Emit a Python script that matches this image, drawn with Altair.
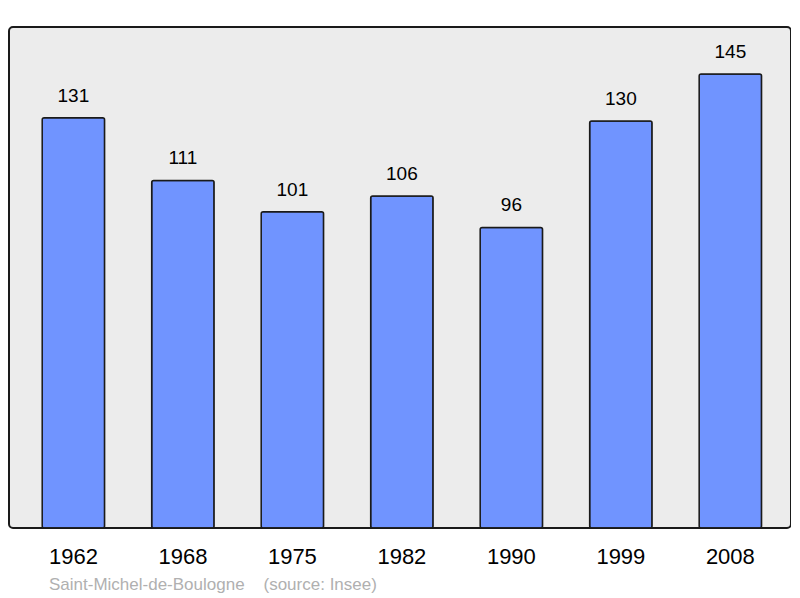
import altair as alt
import pandas as pd

years = ["1962", "1968", "1975", "1982", "1990", "1999", "2008"]
population = [131, 111, 101, 106, 96, 130, 145]

df = pd.DataFrame({"year": years, "pop": population})

x = alt.X("year:N", sort=years,
          scale=alt.Scale(paddingInner=0.43, paddingOuter=0.286, align=0.53),
          axis=alt.Axis(title=None, labelAngle=0, labelFontSize=22, labelColor="#000000",
                        labelFont="Liberation Sans", ticks=False, domain=False, labelPadding=18))
y = alt.Y("pop:Q", scale=alt.Scale(domain=[0, 160], nice=False), axis=None)

bars = alt.Chart(df).mark_bar(color="#7094ff", stroke="#1a1a1a", strokeWidth=1.5,
                              cornerRadius=2).encode(x=x, y=y)
labels = alt.Chart(df).mark_text(baseline="alphabetic", dy=-16, fontSize=19,
                                 font="Liberation Sans", color="#000000").encode(
    x=x, y=y, text="pop:Q")

footer = "Saint-Michel-de-Boulogne" + "\u00a0" * 4 + "(source: Insee)"

chart = (bars + labels).properties(
    width=782, height=501,
    autosize=alt.AutoSizeParams(type="none"),
    padding={"left": 1, "top": 19, "right": 0, "bottom": 70},
    title=alt.TitleParams(footer, orient="bottom",
                          anchor="start", dx=40, offset=10, fontSize=17, fontWeight="normal",
                          color="#b0b0b0", font="Liberation Sans"),
).configure_view(fill="#ececec", stroke="#1a1a1a", strokeWidth=2, cornerRadius=4)

chart.save("out.html", embed_options={"renderer": "svg", "actions": False})
